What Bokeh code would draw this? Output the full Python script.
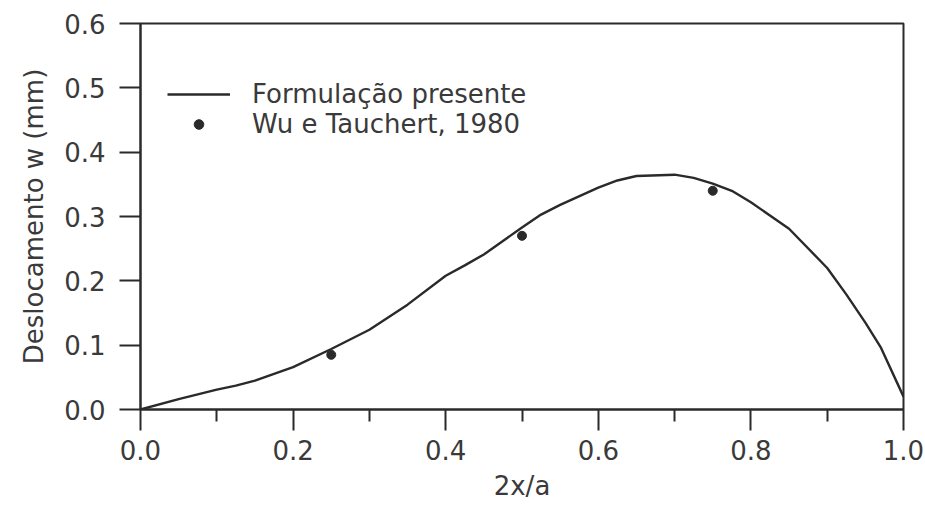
from bokeh.plotting import figure
from bokeh.models import Range1d, FixedTicker, PrintfTickFormatter, Legend, LegendItem, ColumnDataSource
from bokeh.embed import file_html
from bokeh.resources import INLINE

# Deflection profile along the plate (present formulation)
x_curve = [0.0, 0.05, 0.10, 0.125, 0.15, 0.20, 0.25, 0.30, 0.35, 0.40, 0.425, 0.45,
           0.50, 0.525, 0.55, 0.60, 0.625, 0.65, 0.70, 0.725, 0.75, 0.775, 0.80,
           0.85, 0.90, 0.925, 0.95, 0.97, 1.0]
w_curve = [0.0, 0.016, 0.031, 0.037, 0.045, 0.066, 0.094, 0.124, 0.163, 0.208, 0.224, 0.241,
           0.283, 0.303, 0.318, 0.345, 0.356, 0.363, 0.365, 0.360, 0.351, 0.340, 0.322,
           0.281, 0.220, 0.179, 0.135, 0.097, 0.020]

# Reference results (Wu e Tauchert, 1980)
x_ref = [0.25, 0.50, 0.75]
w_ref = [0.085, 0.27, 0.34]

x_ticks = [0.0, 0.2, 0.4, 0.6, 0.8, 1.0]
x_minor = [0.1, 0.3, 0.5, 0.7, 0.9]
y_ticks = [0.0, 0.1, 0.2, 0.3, 0.4, 0.5, 0.6]

INK = "#2a2a2a"
TEXT = "#3a3a3a"
FONT = "DejaVu Sans"
SIZE = "26px"

p = figure(width=925, height=506, output_backend="svg", toolbar_location=None,
           x_range=Range1d(0, 1), y_range=Range1d(0, 0.6),
           min_border_left=140, min_border_right=22, min_border_top=23, min_border_bottom=97)

p.background_fill_color = "white"
p.border_fill_color = "white"
p.outline_line_color = INK
p.outline_line_width = 2
p.xgrid.visible = False
p.ygrid.visible = False

xa = p.xaxis[0]
xa.ticker = FixedTicker(ticks=x_ticks, minor_ticks=x_minor)
xa.formatter = PrintfTickFormatter(format="%.1f")
xa.axis_label = "2x/a"
ya = p.yaxis[0]
ya.ticker = FixedTicker(ticks=y_ticks, minor_ticks=[])
ya.formatter = PrintfTickFormatter(format="%.1f")
ya.axis_label = "Deslocamento w (mm)"

for ax in (xa, ya):
    ax.axis_line_color = INK
    ax.axis_line_width = 2
    ax.major_tick_line_color = INK
    ax.major_tick_line_width = 2
    ax.minor_tick_line_color = INK
    ax.minor_tick_line_width = 2
    ax.major_tick_in = 0
    ax.major_tick_out = 21
    ax.minor_tick_in = 0
    ax.minor_tick_out = 12
    ax.major_label_text_font = FONT
    ax.major_label_text_font_size = SIZE
    ax.major_label_text_color = TEXT
    ax.axis_label_text_font = FONT
    ax.axis_label_text_font_size = SIZE
    ax.axis_label_text_font_style = "normal"
    ax.axis_label_text_color = TEXT

xa.major_label_standoff = 9
xa.axis_label_standoff = 8
ya.major_label_standoff = 14
ya.axis_label_standoff = 12

src_curve = ColumnDataSource(dict(x=x_curve, w=w_curve))
src_ref = ColumnDataSource(dict(x=x_ref, w=w_ref))

line = p.line("x", "w", source=src_curve, line_color=INK, line_width=2.4)
dots = p.scatter("x", "w", source=src_ref, size=9, fill_color=INK, line_color=INK)

legend = Legend(items=[LegendItem(label="Formulação presente", renderers=[line]),
                       LegendItem(label="Wu e Tauchert, 1980", renderers=[dots])],
                location=(27, 270))
legend.glyph_width = 63
legend.glyph_height = 24
legend.label_height = 24
legend.label_standoff = 22
legend.spacing = 0
legend.padding = 0
legend.margin = 0
legend.border_line_alpha = 0
legend.background_fill_alpha = 0
legend.label_text_font = FONT
legend.label_text_font_size = SIZE
legend.label_text_color = TEXT
p.add_layout(legend)

open("out.html", "w").write(file_html(p, INLINE))
